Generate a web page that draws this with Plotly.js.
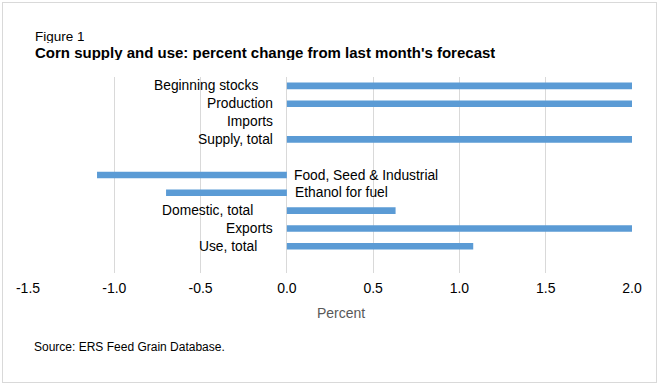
<!DOCTYPE html>
<html>
<head>
<meta charset="utf-8">
<script src="https://cdn.plot.ly/plotly-3.0.1.min.js"></script>
<style>
  html, body { margin: 0; padding: 0; background: #fff; }
  #wrap { position: relative; width: 659px; height: 384px; }
  #chart { width: 659px; height: 384px; }
  #frame { position: absolute; left: 2px; top: 2px; width: 653px; height: 379px; border: 1px solid #d9d9d9; pointer-events: none; }
</style>
</head>
<body>
<div id="wrap">
  <div id="chart"></div>
  <div id="frame"></div>
</div>
<script>
// Categories top to bottom ("" entries are blank spacer rows)
var categories = ["Beginning stocks", "Production", "Imports", "Supply, total", "",
                  "Food, Seed & Industrial", "Ethanol for fuel", "Domestic, total", "Exports", "Use, total", " "];
// Percent change from last month's forecast
var values = [2.0, 2.0, 0.0, 2.0, null, -1.1, -0.7, 0.63, 2.0, 1.08, null];
var xTicks = [-1.5, -1.0, -0.5, 0.0, 0.5, 1.0, 1.5, 2.0];
var xTickLabels = ["-1.5", "-1.0", "-0.5", "0.0", "0.5", "1.0", "1.5", "2.0"];

// label offsets (style only), in px from the zero line
var labelShift = [-27, -12, -12, -12, 0, 5, 6, -32, -12, -28, 0];

var FONT = "Liberation Sans, Arial, sans-serif";

var ys = [], xs = [];
for (var i = 0; i < categories.length; i++) {
  if (values[i] !== null) { ys.push(categories[i]); xs.push(values[i]); }
}

var trace = {
  type: "bar",
  orientation: "h",
  x: xs,
  y: ys,
  width: 0.37,
  marker: { color: "#5b9bd5" },
  hoverinfo: "x+y"
};

var annotations = [];
for (var j = 0; j < categories.length; j++) {
  if (values[j] === null) continue;
  var neg = values[j] < 0;
  annotations.push({
    x: 0, y: categories[j], xref: "x", yref: "y",
    text: categories[j], showarrow: false,
    xanchor: neg ? "left" : "right",
    xshift: labelShift[j],
    font: { family: FONT, size: 13.8, color: "#000" }
  });
}
annotations.push({
  xref: "paper", yref: "paper", x: 0.519, y: -0.205, xanchor: "center", yanchor: "middle",
  text: "Percent", showarrow: false, font: { family: FONT, size: 14, color: "#595959" }
});
annotations.push({
  xref: "paper", yref: "paper", x: 0.0058, y: -0.375, xanchor: "left", yanchor: "middle",
  text: "Source: ERS Feed Grain Database.", showarrow: false, font: { family: FONT, size: 12, color: "#000" }
});
annotations.push({
  xref: "paper", yref: "paper", x: 0.0091, y: 1.207, xanchor: "left", yanchor: "middle",
  height: 14,
  text: "Figure 1", showarrow: false, font: { family: FONT, size: 13.5, color: "#000" }
});
annotations.push({
  xref: "paper", yref: "paper", x: 0.0091, y: 1.124, xanchor: "left", yanchor: "middle",
  height: 15,
  text: "<b>Corn supply and use: percent change from last month's forecast</b>", showarrow: false,
  font: { family: FONT, size: 15, color: "#000" }
});

var layout = {
  width: 659, height: 384,
  margin: { l: 27.5, r: 27.4, t: 77, b: 111, pad: 0 },
  paper_bgcolor: "#fff", plot_bgcolor: "#fff",
  showlegend: false,
  xaxis: {
    range: [-1.5, 2.0],
    tickvals: xTicks, ticktext: xTickLabels,
    showgrid: true, gridcolor: "#d9d9d9", gridwidth: 1,
    zeroline: false, showline: false,
    ticks: "outside", ticklen: 2, tickcolor: "rgba(0,0,0,0)",
    tickfont: { family: FONT, size: 14, color: "#000" },
    fixedrange: true
  },
  yaxis: {
    type: "category",
    categoryorder: "array", categoryarray: categories,
    range: [categories.length - 0.5, -0.5],
    showticklabels: false, showgrid: false, zeroline: false, showline: false, ticks: "",
    fixedrange: true
  },
  annotations: annotations
};

Plotly.newPlot("chart", [trace], layout, { displayModeBar: false, staticPlot: true });
</script>
</body>
</html>
